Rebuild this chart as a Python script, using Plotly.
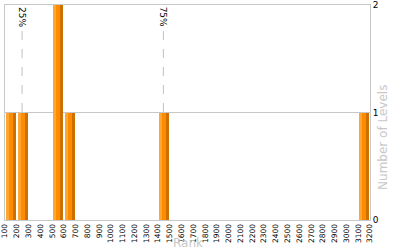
import plotly.graph_objects as go

bin_starts = [100, 200, 500, 600, 1400, 3100]
counts = [1, 1, 2, 1, 1, 1]
percentile_labels = ["25%", "75%"]
percentile_values = [245, 1445]
x_ticks = list(range(100, 3300, 100))
y_ticks = [0, 1, 2]

fig = go.Figure()
parts = [("#FFA733", 8, 26), ("#FF8C00", 34, 34), ("#CC7000", 68, 26)]
for color, off, w in parts:
    fig.add_trace(go.Bar(x=bin_starts, y=counts, offset=off, width=w,
                         marker=dict(color=color, line=dict(width=0)),
                         hoverinfo="skip", showlegend=False))

for lab, val in zip(percentile_labels, percentile_values):
    fig.add_shape(type="line", x0=val, x1=val, xref="x", yref="paper",
                  y0=0, y1=0.895, layer="below",
                  line=dict(color="#c0c0c0", width=1, dash="dash"))
    fig.add_annotation(x=val, y=1.0, xref="x", yref="paper", text=lab,
                       textangle=90, showarrow=False, xanchor="center", yanchor="top",
                       font=dict(family="DejaVu Sans", size=9, color="black"))

fig.add_annotation(x=1.06, y=0.386, xref="paper", yref="paper", text="Number of Levels",
                   textangle=-90, showarrow=False,
                   font=dict(family="DejaVu Sans", size=12, color="#c8c8c8"))
fig.add_annotation(x=0.5, y=-0.107, xref="paper", yref="paper", text="Rank",
                   showarrow=False, yanchor="middle",
                   font=dict(family="DejaVu Sans", size=12, color="#c8c8c8"))

fig.update_layout(
    width=400, height=250, margin=dict(l=5, r=30, t=5, b=30, autoexpand=False),
    paper_bgcolor="white", plot_bgcolor="white", barmode="overlay", bargap=0,
    xaxis=dict(range=[100, 3200], tickmode="array", tickvals=x_ticks,
               ticktext=[str(v) for v in x_ticks], tickangle=-90, automargin=False,
               showgrid=False, zeroline=False, showline=True, mirror=True,
               linecolor="#c8c8c8", linewidth=1, ticks="",
               tickfont=dict(family="DejaVu Sans", size=7.5, color="black")),
    yaxis=dict(range=[0, 2], side="right", tickmode="array", tickvals=y_ticks,
               automargin=False,
               showgrid=True, gridcolor="#c8c8c8", zeroline=False, showline=True,
               mirror=True, linecolor="#c8c8c8", linewidth=1, ticks="",
               tickfont=dict(family="DejaVu Sans", size=9, color="black")),
)
fig.write_html("out.html")
